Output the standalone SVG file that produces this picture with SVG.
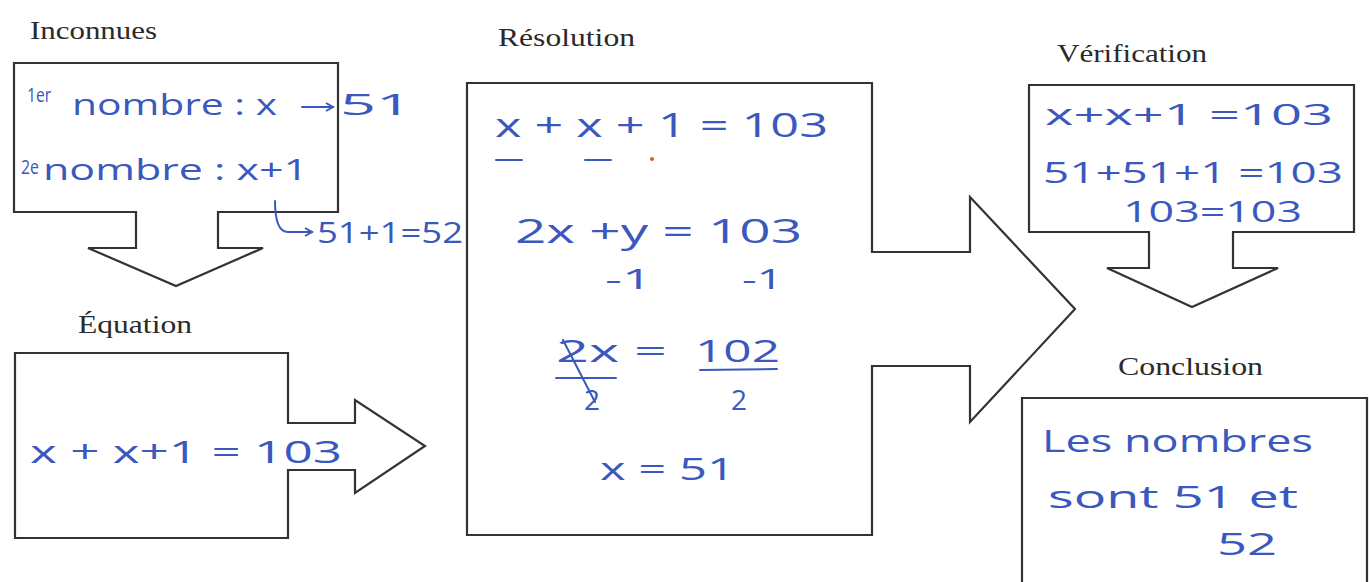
<svg xmlns="http://www.w3.org/2000/svg" width="1369" height="582" viewBox="0 0 1369 582">
<style>
.bg{fill:#ffffff}
.shape{fill:#ffffff;stroke:#333333;stroke-width:2.2;stroke-linejoin:miter}
.title{font-family:"Liberation Serif","Times New Roman",serif;font-size:25px;fill:#2a2a2a}
.hw{font-family:"Open Sans","Liberation Sans",sans-serif;fill:#3a58bd}
.ink{fill:none;stroke:#3a58bd;stroke-width:2;stroke-linecap:round}
</style>
<defs>
<marker id="blueHead" markerWidth="10" markerHeight="10" refX="8" refY="5" orient="auto" markerUnits="userSpaceOnUse">
<path d="M1,1 L8,5 L1,9" fill="none" stroke="#3a58bd" stroke-width="2"/>
</marker>
</defs>
<rect class="bg" x="0" y="0" width="1369" height="582"/>

<g id="inconnues">
<text class="title" x="30" y="39" textLength="127" lengthAdjust="spacingAndGlyphs">Inconnues</text>
<path class="shape" d="M14,63 L338,63 L338,212 L218,212 L218,248 L263,248 L176,286 L88,248 L136,248 L136,212 L14,212 Z"/>
<text class="hw" x="27" y="102" font-size="20" textLength="24" lengthAdjust="spacingAndGlyphs">1er</text>
<text class="hw" x="72" y="115" font-size="29" textLength="205" lengthAdjust="spacingAndGlyphs">nombre :  x</text>
<text class="hw" x="340" y="115" font-size="30" textLength="72" lengthAdjust="spacingAndGlyphs">51</text>
<text class="hw" x="21" y="174" font-size="20" textLength="18" lengthAdjust="spacingAndGlyphs">2e</text>
<text class="hw" x="43" y="180" font-size="29" textLength="265" lengthAdjust="spacingAndGlyphs">nombre : x+1</text>
<text class="hw" x="317" y="243" font-size="29" textLength="146" lengthAdjust="spacingAndGlyphs">51+1=52</text>
</g>

<g id="equation">
<text class="title" x="78" y="333" textLength="114" lengthAdjust="spacingAndGlyphs">Équation</text>
<path class="shape" d="M15,353 L288,353 L288,423 L355,423 L355,400 L425,446 L355,493 L355,470 L288,470 L288,538 L15,538 Z"/>
<text class="hw" x="30" y="463" font-size="31" textLength="312" lengthAdjust="spacingAndGlyphs">x + x+1 = 103</text>
</g>

<g id="resolution">
<text class="title" x="498" y="46" textLength="137" lengthAdjust="spacingAndGlyphs">Résolution</text>
<path class="shape" d="M467,83 L872,83 L872,252 L970,252 L970,197 L1075,309 L970,422 L970,366 L872,366 L872,535 L467,535 Z"/>
<text class="hw" x="495" y="137" font-size="33" textLength="333" lengthAdjust="spacingAndGlyphs">x + x + 1 = 103</text>
<path class="ink" d="M496,160 L522,160 M585,160 L611,160"/>
<circle cx="652" cy="159" r="2" fill="#d0602a"/>
<text class="hw" x="515" y="243" font-size="33" textLength="287" lengthAdjust="spacingAndGlyphs">2x +y = 103</text>
<text class="hw" x="605" y="289" font-size="27" textLength="47" lengthAdjust="spacingAndGlyphs">-1</text>
<text class="hw" x="742" y="289" font-size="27" textLength="41" lengthAdjust="spacingAndGlyphs">-1</text>
<text class="hw" x="556" y="362" font-size="31" textLength="111" lengthAdjust="spacingAndGlyphs">2x =</text>
<text class="hw" x="695" y="362" font-size="31" textLength="85" lengthAdjust="spacingAndGlyphs">102</text>
<path class="ink" d="M556,378 L616,378 M700,370 L777,369 M563,340 L595,402"/>
<text class="hw" x="584" y="410" font-size="28">2</text>
<text class="hw" x="731" y="410" font-size="28">2</text>
<text class="hw" x="600" y="480" font-size="31" textLength="135" lengthAdjust="spacingAndGlyphs">x = 51</text>
</g>

<g id="verification">
<text class="title" x="1057" y="62" textLength="150" lengthAdjust="spacingAndGlyphs">Vérification</text>
<path class="shape" d="M1029,85 L1354,85 L1354,232 L1233,232 L1233,268 L1278,268 L1192,307 L1107,268 L1149,268 L1149,232 L1029,232 Z"/>
<text class="hw" x="1045" y="125" font-size="29" textLength="288" lengthAdjust="spacingAndGlyphs">x+x+1 =103</text>
<text class="hw" x="1043" y="183" font-size="29" textLength="300" lengthAdjust="spacingAndGlyphs">51+51+1 =103</text>
<text class="hw" x="1123" y="222" font-size="29" textLength="179" lengthAdjust="spacingAndGlyphs">103=103</text>
</g>

<g id="conclusion">
<text class="title" x="1118" y="375" textLength="145" lengthAdjust="spacingAndGlyphs">Conclusion</text>
<path class="shape" d="M1022,590 L1022,398 L1367,398 L1367,590"/>
<text class="hw" x="1042" y="452" font-size="31" textLength="271" lengthAdjust="spacingAndGlyphs">Les nombres</text>
<text class="hw" x="1048" y="508" font-size="31" textLength="250" lengthAdjust="spacingAndGlyphs">sont 51 et</text>
<text class="hw" x="1217" y="555" font-size="31" textLength="60" lengthAdjust="spacingAndGlyphs">52</text>
</g>

<g id="connectors">
<path class="ink" d="M302,107 L333,107" marker-end="url(#blueHead)"/>
<path class="ink" d="M275,201 Q275,232 288,232 L312,232" marker-end="url(#blueHead)"/>
</g>
</svg>
